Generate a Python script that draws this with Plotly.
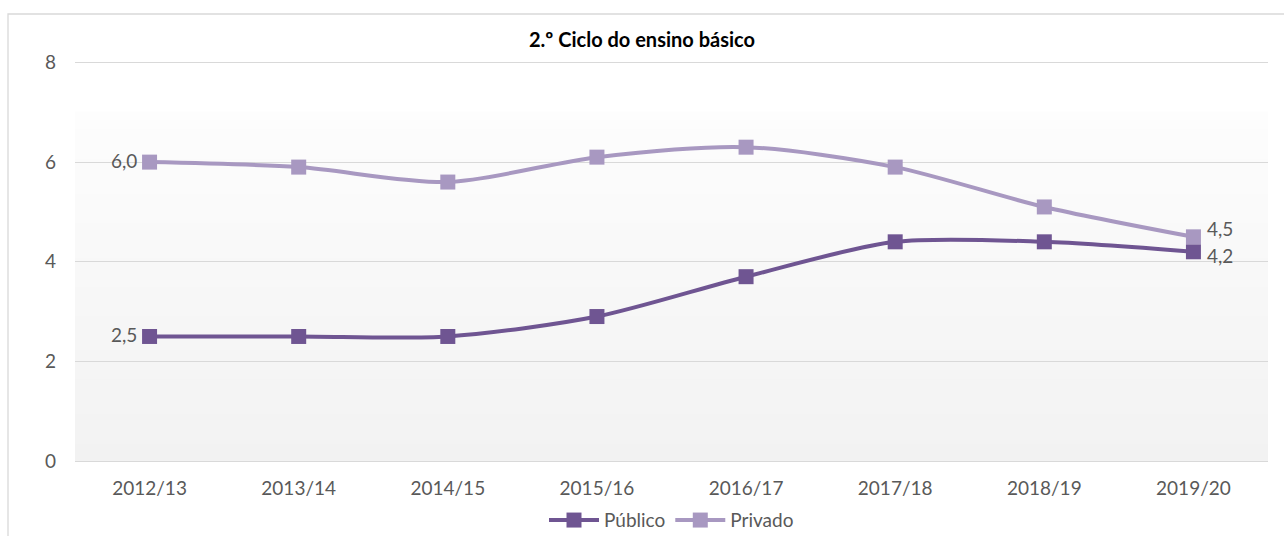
import plotly.graph_objects as go

categories = ["2012/13", "2013/14", "2014/15", "2015/16", "2016/17", "2017/18", "2018/19", "2019/20"]
publico = [2.5, 2.5, 2.5, 2.9, 3.7, 4.4, 4.4, 4.2]
privado = [6.0, 5.9, 5.6, 6.1, 6.3, 5.9, 5.1, 4.5]
y_ticks = [0, 2, 4, 6, 8]
title_text = "2.º Ciclo do ensino básico"

FONT = "Lato"
GREY = "#595959"
C_PUB = "#6f5592"
C_PRI = "#a898c1"
FS = 19

fig = go.Figure()
fig.add_trace(go.Scatter(
    x=categories, y=publico, name="Público", mode="lines+markers",
    line=dict(color=C_PUB, width=4, shape="spline", smoothing=0.8),
    marker=dict(symbol="square", size=15, color=C_PUB),
))
fig.add_trace(go.Scatter(
    x=categories, y=privado, name="Privado", mode="lines+markers",
    line=dict(color=C_PRI, width=4, shape="spline", smoothing=0.8),
    marker=dict(symbol="square", size=15, color=C_PRI),
))

def fmt(v):
    return f"{v:.1f}".replace(".", ",")

ann = []
for series in (publico, privado):
    ann.append(dict(x=categories[0], y=series[0], text=fmt(series[0]), showarrow=False,
                    xanchor="right", xshift=-11, yshift=2,
                    font=dict(family=FONT, size=FS, color=GREY)))
ann.append(dict(x=categories[-1], y=privado[-1], text=fmt(privado[-1]), showarrow=False,
                xanchor="left", xshift=12, yshift=8,
                font=dict(family=FONT, size=FS, color=GREY)))
ann.append(dict(x=categories[-1], y=publico[-1], text=fmt(publico[-1]), showarrow=False,
                xanchor="left", xshift=12, yshift=-4,
                font=dict(family=FONT, size=FS, color=GREY)))

y_max = 8.03
shapes = []
n = 60
top = 7 / y_max
for i in range(n):
    f0 = i / n
    f1 = (i + 1) / n
    t = (f0 + f1) / 2
    c0 = (242, 242, 242)
    c1 = (253, 253, 253)
    col = tuple(round(c0[k] + (c1[k] - c0[k]) * t) for k in range(3))
    shapes.append(dict(type="rect", xref="x domain", yref="y domain",
                       x0=0, x1=1, y0=f0 * top, y1=f1 * top + 0.002,
                       fillcolor=f"rgb{col}", line=dict(width=0), layer="below"))
shapes.append(dict(type="rect", xref="paper", yref="paper",
                   xsizemode="pixel", ysizemode="pixel", xanchor=0, yanchor=1,
                   x0=-67, x1=1300, y0=47, y1=-500,
                   line=dict(color="#d9d9d9", width=1.3), fillcolor="rgba(0,0,0,0)", layer="below"))

fig.update_layout(
    width=1284, height=536,
    margin=dict(l=75, r=16, t=61, b=75, autoexpand=False),
    paper_bgcolor="white", plot_bgcolor="white",
    font=dict(family=FONT, size=FS, color=GREY),
    title=dict(text=f"<b>{title_text}</b>", x=0.5, xanchor="center", y=0.925, yanchor="middle",
               font=dict(family=FONT, size=20, color="#000000")),
    showlegend=True,
    legend=dict(orientation="h", x=0.5, xanchor="center", y=-0.148, yanchor="middle",
                font=dict(family=FONT, size=FS, color=GREY), itemwidth=50,
                bgcolor="rgba(0,0,0,0)"),
    xaxis=dict(type="category", showgrid=False, showline=False, ticks="",
               range=[-0.5, 7.5], tickfont=dict(family=FONT, size=FS, color=GREY),
               zeroline=False, automargin=False, ticklabelstandoff=14),
    yaxis=dict(range=[0, y_max], tickvals=y_ticks, showgrid=True, gridcolor="#d9d9d9", gridwidth=1.3,
               zeroline=True, zerolinecolor="#d9d9d9", zerolinewidth=1.3, showline=False,
               ticks="", ticklabelstandoff=18, automargin=False,
               tickfont=dict(family=FONT, size=FS, color=GREY)),
    shapes=shapes,
    annotations=ann,
)

fig.write_html("out.html", config={"displayModeBar": False},
               post_script="document.body.style.margin='0';document.body.style.overflow='hidden';")
